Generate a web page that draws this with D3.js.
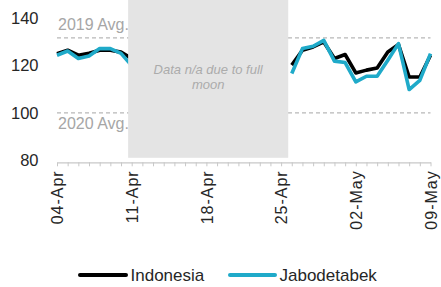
<!DOCTYPE html>
<html>
<head>
<meta charset="utf-8">
<script src="https://cdn.jsdelivr.net/npm/d3@7"></script>
<style>
  body { margin: 0; background: #fff; }
  svg { display: block; font-family: "Liberation Sans", Arial, sans-serif; }
</style>
</head>
<body>
<div id="chart"></div>
<script>
// Données
const startDate = "2021-04-04";
const endDate = "2021-05-09";
const labelDates = ["2021-04-04", "2021-04-11", "2021-04-18", "2021-04-25", "2021-05-02", "2021-05-09"];
const yTicks = [80, 100, 120, 140];

// 04-Apr .. 09-May (null = pas de données)
const indonesia = [125.0, 126.5, 124.4, 125.2, 126.5, 126.5, 125.7, 123.0,
  null, null, null, null, null, null, null, null, null, null, null, null, null, null,
  120.2, 126.5, 127.9, 130.0, 123.0, 124.7, 116.9, 118.1, 119.0, 125.8, 128.9, 115.2, 115.2, 124.4];
const jabodetabek = [124.4, 126.2, 123.0, 124.1, 127.2, 127.2, 125.2, 120.0,
  null, null, null, null, null, null, null, null, null, null, null, null, null, null,
  116.7, 127.2, 128.2, 130.7, 121.9, 121.3, 113.1, 115.5, 115.5, 122.3, 129.3, 109.9, 113.8, 125.1];

const avgLines = [
  { label: "2019 Avg.", value: 131.7 },
  { label: "2020 Avg.", value: 100 }
];
const gapStart = "2021-04-10T16:00";
const gapEnd = "2021-04-25T16:00";
const gapText = ["Data n/a due to full", "moon"];

const series = [
  { name: "Indonesia", values: indonesia, color: "#000000" },
  { name: "Jabodetabek", values: jabodetabek, color: "#1faac9" }
];

// Paramètres de base
const width = 441;
const height = 287;

const parse = d3.isoParse;
const fmt = d3.timeFormat("%d-%b");
const days = d3.timeDay.range(parse(startDate), d3.timeDay.offset(parse(endDate), 1));

const x = d3.scaleTime()
  .domain([parse(startDate), parse(endDate)])
  .range([57, 430.5]);

const y = d3.scaleLinear()
  .domain([80, 140])
  .range([160.3, 18.3]);

const svg = d3.select("#chart")
  .append("svg")
  .attr("width", width)
  .attr("height", height);

// Lignes de moyenne
svg.selectAll(".avg")
  .data(avgLines)
  .join("line")
  .attr("x1", x.range()[0])
  .attr("x2", x.range()[1])
  .attr("y1", (d) => y(d.value))
  .attr("y2", (d) => y(d.value))
  .attr("stroke", "#b8b8b8")
  .attr("stroke-width", 1.3)
  .attr("stroke-dasharray", "4,3");

svg.selectAll(".avg-label")
  .data(avgLines)
  .join("text")
  .attr("x", 58)
  .attr("y", (d, i) => i === 0 ? y(d.value) - 7.5 : y(d.value) + 16.5)
  .attr("fill", "#a6a6a6")
  .style("font-size", "16px")
  .text((d) => d.label);

// Courbes
const line = d3.line()
  .defined((d) => d.v !== null)
  .x((d) => x(d.date))
  .y((d) => y(d.v));

series.forEach((s) => {
  const pts = days.map((date, i) => ({ date: date, v: s.values[i] }));
  svg.append("path")
    .datum(pts)
    .attr("fill", "none")
    .attr("stroke", s.color)
    .attr("stroke-width", 3.6)
    .attr("stroke-linejoin", "round")
    .attr("d", line);
});

// Zone grise (pleine lune)
const gx0 = x(parse(gapStart));
const gx1 = x(parse(gapEnd));
svg.append("rect")
  .attr("x", gx0)
  .attr("y", 0)
  .attr("width", gx1 - gx0)
  .attr("height", y(80) - 2.5)
  .attr("fill", "#e4e4e4");

svg.append("text")
  .attr("x", (gx0 + gx1) / 2)
  .attr("y", 73.5)
  .attr("text-anchor", "middle")
  .attr("fill", "#ababab")
  .style("font-size", "13px")
  .style("font-style", "italic")
  .selectAll("tspan")
  .data(gapText)
  .join("tspan")
  .attr("x", (gx0 + gx1) / 2)
  .attr("dy", (d, i) => i === 0 ? 0 : 15)
  .text((d) => d);

// Axe Y (labels seulement)
svg.selectAll(".ylab")
  .data(yTicks)
  .join("text")
  .attr("x", 38.5)
  .attr("y", (d) => y(d))
  .attr("dy", "0.35em")
  .attr("text-anchor", "end")
  .attr("fill", "#262626")
  .style("font-size", "16.5px")
  .text((d) => d);

// Axe X
const labelSet = new Set(labelDates);
const xAxis = d3.axisBottom(x)
  .tickValues(days)
  .tickSize(4)
  .tickSizeOuter(0)
  .tickFormat((d) => labelSet.has(d3.timeFormat("%Y-%m-%d")(d)) ? fmt(d) : "");

const gx = svg.append("g")
  .attr("transform", `translate(0,${y(80) + 2})`)
  .call(xAxis);

gx.select(".domain").attr("stroke", "#c8c8c8").attr("stroke-width", 1.2);
gx.selectAll(".tick line").attr("stroke", "#c8c8c8");
gx.selectAll(".tick text")
  .attr("transform", "rotate(-90)")
  .attr("x", -8)
  .attr("y", 0)
  .attr("dy", "0.35em")
  .attr("text-anchor", "end")
  .attr("fill", "#262626")
  .style("font-size", "16px")
  .style("letter-spacing", "1px")
  .style("font-family", "'Liberation Sans', Arial, sans-serif");

// Légende
const legendItems = [
  { x1: 80, x2: 126, tx: 130.5 },
  { x1: 230, x2: 275, tx: 279.5 }
];
const legend = svg.selectAll(".legend")
  .data(series)
  .join("g");

legend.append("line")
  .attr("x1", (d, i) => legendItems[i].x1)
  .attr("x2", (d, i) => legendItems[i].x2)
  .attr("y1", 275)
  .attr("y2", 275)
  .attr("stroke", (d) => d.color)
  .attr("stroke-width", 4)
  .attr("stroke-linecap", "round");

legend.append("text")
  .attr("x", (d, i) => legendItems[i].tx)
  .attr("y", 280.7)
  .attr("fill", "#262626")
  .style("font-size", "17px")
  .text((d) => d.name);
</script>
</body>
</html>
